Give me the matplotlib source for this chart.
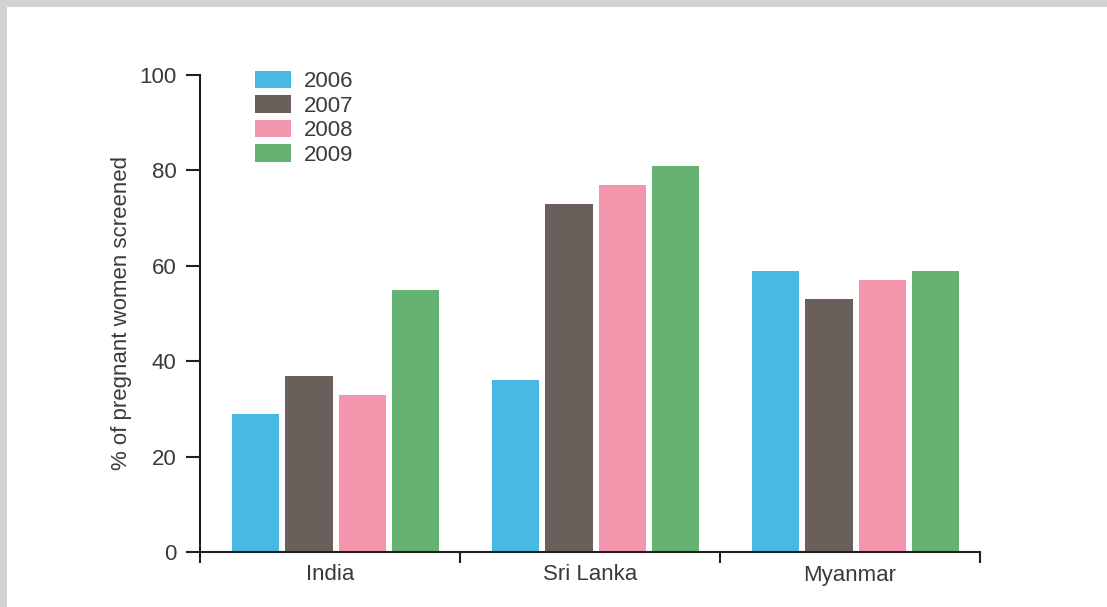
import matplotlib
matplotlib.use("Agg")
import matplotlib.pyplot as plt
import numpy as np
from matplotlib.patches import Rectangle

countries = ["India", "Sri Lanka", "Myanmar"]
years = ["2006", "2007", "2008", "2009"]
v2006 = [29, 36, 59]
v2007 = [37, 73, 53]
v2008 = [33, 77, 57]
v2009 = [55, 81, 59]
series = [v2006, v2007, v2008, v2009]
colors = ["#49b8e5", "#6b5f5b", "#f495ae", "#65b272"]
yticks = [0, 20, 40, 60, 80, 100]

plt.rcParams['font.family'] = ['Liberation Sans', 'DejaVu Sans']
W, H = 1107, 607
fig = plt.figure(figsize=(W/100, H/100), dpi=100)
fig.patch.set_facecolor("white")

# grey frame at top and left
fig.patches.append(Rectangle((0, 1 - 7/H), 1, 7/H, transform=fig.transFigure,
                             facecolor="#d1d2d4", edgecolor="none", zorder=0))
fig.patches.append(Rectangle((0, 0), 7/W, 1, transform=fig.transFigure,
                             facecolor="#d1d2d4", edgecolor="none", zorder=0))

ax = fig.add_axes([200/W, 55/H, 780/W, 477/H])
axis_col = "#231f20"
text_col = "#3a3a3a"

x = np.arange(len(countries))
width = 0.181
step = 0.2055
center = 0.522
for i, (vals, col, yr) in enumerate(zip(series, colors, years)):
    ax.bar(x + center + (i - 1.5) * step, vals, width=width, color=col,
           label=yr, zorder=2)

ax.set_xlim(0, 3)
ax.set_ylim(0, 100)
ax.set_yticks(yticks)
ax.set_yticklabels([str(t) for t in yticks])

ax.set_xticks([0, 1, 2, 3])
ax.set_xticklabels([])
ax.set_xticks(x + 0.5, minor=True)
ax.set_xticklabels(countries, minor=True)

for s in ["top", "right"]:
    ax.spines[s].set_visible(False)
for s in ["left", "bottom"]:
    ax.spines[s].set_color(axis_col)
    ax.spines[s].set_linewidth(1.5)
ax.spines["bottom"].set_zorder(3)

ax.tick_params(axis="y", which="major", length=10, width=1.5, color=axis_col,
               labelsize=16, labelcolor=text_col, pad=7)
ax.tick_params(axis="x", which="major", direction="out", length=8, width=1.5,
               color=axis_col)
ax.tick_params(axis="x", which="minor", length=0, labelsize=16,
               labelcolor=text_col, pad=9)

ax.set_ylabel("% of pregnant women screened", fontsize=16, color=text_col,
              labelpad=5)

leg = ax.legend(loc="upper left", bbox_to_anchor=(255/W, 1 - 71/H),
                bbox_transform=fig.transFigure, frameon=False, fontsize=16,
                handlelength=1.6, handleheight=0.82, labelspacing=0.14,
                handletextpad=0.6, borderpad=0, borderaxespad=0)
for t in leg.get_texts():
    t.set_color(text_col)

fig.savefig("out.png", dpi=100)
